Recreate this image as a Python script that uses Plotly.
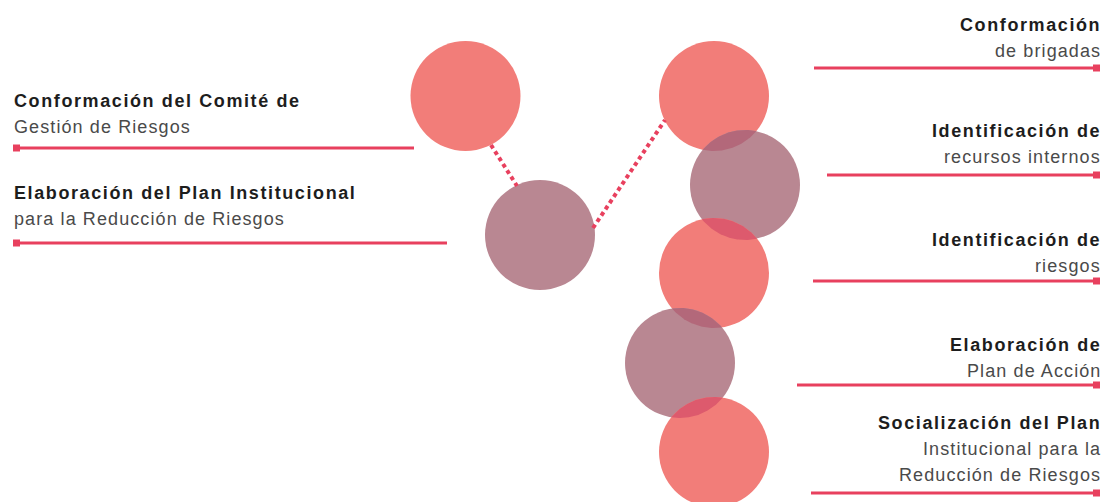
import numpy as np
import plotly.graph_objects as go

# ---- data ----------------------------------------------------------------
circle_x = [465.5, 540, 714, 745, 714, 680, 714]
circle_y = [96, 235, 96, 185, 273, 363, 452]
circle_kind = ["coral", "mauve", "coral", "mauve", "coral", "mauve", "coral"]
circle_r = 55

overlap_pairs = [(2, 3), (3, 4), (4, 5), (5, 6)]
overlap_kind = ["dark", "red", "dark", "red"]

link_x0 = [491, 593]
link_y0 = [145, 228]
link_x1 = [517, 665]
link_y1 = [186, 120]

left_titles = ["Conformación del Comité de", "Elaboración del Plan Institucional"]
left_subs = [["Gestión de Riesgos"], ["para la Reducción de Riesgos"]]
left_title_y = [101, 193]
left_rule_y = [148, 243]
left_rule_end = [414, 447]

right_titles = ["Conformación", "Identificación de", "Identificación de",
                "Elaboración de", "Socialización del Plan"]
right_subs = [["de brigadas"], ["recursos internos"], ["riesgos"],
              ["Plan de Acción"], ["Institucional para la", "Reducción de Riesgos"]]
right_title_y = [25, 131, 240, 345, 423]
right_rule_y = [68, 175, 281, 385, 493]
right_rule_start = [814, 827, 813, 797, 811]

# ---- style ---------------------------------------------------------------
W, H = 1102, 502
COL = {"coral": "#F27D79", "mauve": "#B98792", "dark": "#B3687A", "red": "#DD5A6D"}
RED = "#E8405E"
LINE_GAP = 26
LEFT_X, RIGHT_X = 12, 1101
FONT = "Liberation Sans, Arial, sans-serif"

fig = go.Figure()
shapes = []
for cx, cy, k in zip(circle_x, circle_y, circle_kind):
    shapes.append(dict(type="circle", xref="x", yref="y", layer="below",
                       x0=cx - circle_r, x1=cx + circle_r,
                       y0=cy - circle_r, y1=cy + circle_r,
                       fillcolor=COL[k], line=dict(width=0)))

# lens-shaped overlaps
for (a, b), k in zip(overlap_pairs, overlap_kind):
    ax, ay, bx, by = circle_x[a], circle_y[a], circle_x[b], circle_y[b]
    d = np.hypot(bx - ax, by - ay)
    alpha = np.arccos(d / (2 * circle_r))
    tab = np.arctan2(by - ay, bx - ax)
    tba = tab + np.pi
    t1 = np.linspace(tab - alpha, tab + alpha, 60)
    t2 = np.linspace(tba - alpha, tba + alpha, 60)
    xs = np.concatenate([ax + circle_r * np.cos(t1), bx + circle_r * np.cos(t2)])
    ys = np.concatenate([ay + circle_r * np.sin(t1), by + circle_r * np.sin(t2)])
    fig.add_trace(go.Scatter(x=xs, y=ys, mode="lines", fill="toself",
                             fillcolor=COL[k], line=dict(width=0),
                             hoverinfo="skip", showlegend=False))

# dotted links
for x0, y0, x1, y1 in zip(link_x0, link_y0, link_x1, link_y1):
    fig.add_trace(go.Scatter(x=[x0, x1], y=[y0, y1], mode="lines",
                             line=dict(color=RED, width=4, dash="4px,3.5px"),
                             hoverinfo="skip", showlegend=False))

annotations = []


def label(x, y, txt, bold, anchor, shift=0):
    if bold:
        t = f'<span style="letter-spacing:1.6px"><b>{txt}</b></span>'
        color = "#1d1d1d"
    else:
        t = f'<span style="letter-spacing:1.1px">{txt}</span>'
        color = "#4a4a4a"
    annotations.append(dict(x=x, y=y, xref="x", yref="y", text=t, showarrow=False,
                            xanchor=anchor, yanchor="middle", xshift=shift,
                            font=dict(family=FONT, size=18, color=color)))


# left labels
for title, subs, ty, ry, re in zip(left_titles, left_subs, left_title_y, left_rule_y, left_rule_end):
    label(LEFT_X, ty, title, True, "left")
    for i, s in enumerate(subs):
        label(LEFT_X, ty + LINE_GAP * (i + 1), s, False, "left")
    fig.add_trace(go.Scatter(x=[14, re], y=[ry, ry], mode="lines",
                             line=dict(color=RED, width=3), hoverinfo="skip", showlegend=False))
    fig.add_trace(go.Scatter(x=[16.5], y=[ry], mode="markers",
                             marker=dict(symbol="square", size=7, color=RED, line=dict(width=0)),
                             hoverinfo="skip", showlegend=False))

# right labels
for title, subs, ty, ry, rs in zip(right_titles, right_subs, right_title_y, right_rule_y, right_rule_start):
    label(RIGHT_X, ty, title, True, "right", shift=2)
    for i, s in enumerate(subs):
        label(RIGHT_X, ty + LINE_GAP * (i + 1), s, False, "right", shift=2)
    fig.add_trace(go.Scatter(x=[rs, 1100], y=[ry, ry], mode="lines",
                             line=dict(color=RED, width=3), hoverinfo="skip", showlegend=False))
    fig.add_trace(go.Scatter(x=[1096.5], y=[ry], mode="markers",
                             marker=dict(symbol="square", size=7, color=RED, line=dict(width=0)),
                             hoverinfo="skip", showlegend=False))

fig.update_layout(
    width=W, height=H, margin=dict(l=0, r=0, t=0, b=0),
    paper_bgcolor="white", plot_bgcolor="white",
    shapes=shapes, annotations=annotations, showlegend=False,
    xaxis=dict(range=[0, W], visible=False, fixedrange=True),
    yaxis=dict(range=[H, 0], visible=False, fixedrange=True),
)

fig.write_html("out.html", config={"displayModeBar": False, "staticPlot": True},
               post_script="document.body.style.margin='0';")
